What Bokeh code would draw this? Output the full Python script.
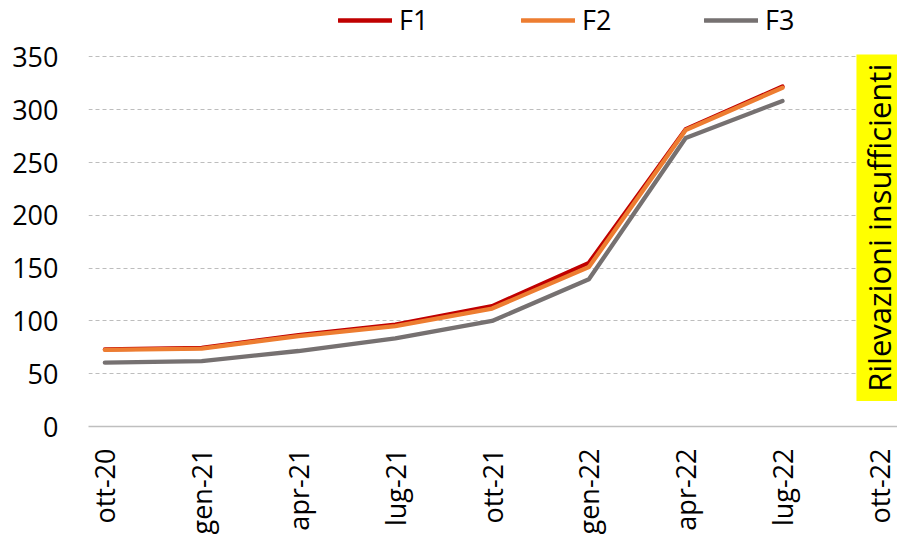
import math
from bokeh.plotting import figure
from bokeh.models import (Range1d, FixedTicker, Legend, LegendItem, BoxAnnotation, Label)
from bokeh.embed import file_html
from bokeh.resources import INLINE

# ---- data ----
x_labels = ["ott-20", "gen-21", "apr-21", "lug-21", "ott-21", "gen-22", "apr-22", "lug-22", "ott-22"]
series_names = ["F1", "F2", "F3"]
f1 = [73, 74.5, 86.5, 96.5, 114, 155, 281.5, 322]
f2 = [72.5, 73.8, 85.7, 95, 111.7, 151, 280.8, 320.9]
f3 = [60.5, 62, 71.5, 83.5, 100, 139.4, 273.3, 308.4]
y_ticks = [0, 50, 100, 150, 200, 250, 300, 350]
note_text = "Rilevazioni insufficienti"

FONT = "Open Sans"
colors = ["#C00000", "#ED7D31", "#767171"]

p = figure(width=897, height=537, output_backend="svg", toolbar_location=None,
           x_range=Range1d(-0.169, 8.188), y_range=Range1d(0, 403.5),
           min_border_left=88, min_border_right=0, min_border_top=0, min_border_bottom=110)
p.outline_line_color = None
p.background_fill_color = "white"
p.border_fill_color = "white"

xs = list(range(len(f1)))
renderers = []
for vals, c in zip([f1, f2, f3], colors):
    r = p.line(xs, vals, line_color=c, line_width=4.3, line_join="round", line_cap="round")
    renderers.append(r)

# yellow note box
box = BoxAnnotation(left=7.764, right=8.3, bottom=24.1, top=352.4,
                    fill_color="#FFFF00", fill_alpha=1.0, line_color=None, level="overlay")
p.add_layout(box)
lab = Label(x=7.995, y=188.2, text=note_text, angle=math.pi / 2,
            text_align="center", text_baseline="middle",
            text_font=FONT, text_font_size="31px", text_color="black", level="overlay")
p.add_layout(lab)

# axes
p.xaxis.ticker = FixedTicker(ticks=list(range(len(x_labels))))
p.xaxis.major_label_overrides = {i: t for i, t in enumerate(x_labels)}
p.xaxis.major_label_orientation = math.pi / 2
p.xaxis.major_label_text_font = FONT
p.xaxis.major_label_text_font_size = "27px"
p.xaxis.major_label_text_color = "black"
p.xaxis.major_label_standoff = 16
p.xaxis.major_tick_line_color = None
p.xaxis.minor_tick_line_color = None
p.xaxis.axis_line_color = "#BFBFBF"
p.xaxis.axis_line_width = 1.5

p.yaxis.ticker = FixedTicker(ticks=y_ticks)
p.yaxis.major_label_text_font = FONT
p.yaxis.major_label_text_font_size = "27px"
p.yaxis.major_label_text_color = "black"
p.yaxis.major_label_standoff = 24
p.yaxis.major_tick_line_color = None
p.yaxis.minor_tick_line_color = None
p.yaxis.axis_line_color = None

p.xgrid.grid_line_color = None
p.ygrid.grid_line_color = "#BDBDBD"
p.ygrid.grid_line_dash = "4 3"
p.ygrid.grid_line_width = 1

legend = Legend(items=[LegendItem(label=n, renderers=[r]) for n, r in zip(series_names, renderers)],
                orientation="horizontal", location=(250, 388),
                glyph_width=54, glyph_height=30, label_height=30, label_width=100,
                label_standoff=7, spacing=22, padding=0, margin=0,
                border_line_color=None, background_fill_alpha=0,
                label_text_font=FONT, label_text_font_size="27px", label_text_color="black")
p.add_layout(legend)

open("out.html", "w").write(file_html(p, INLINE))
